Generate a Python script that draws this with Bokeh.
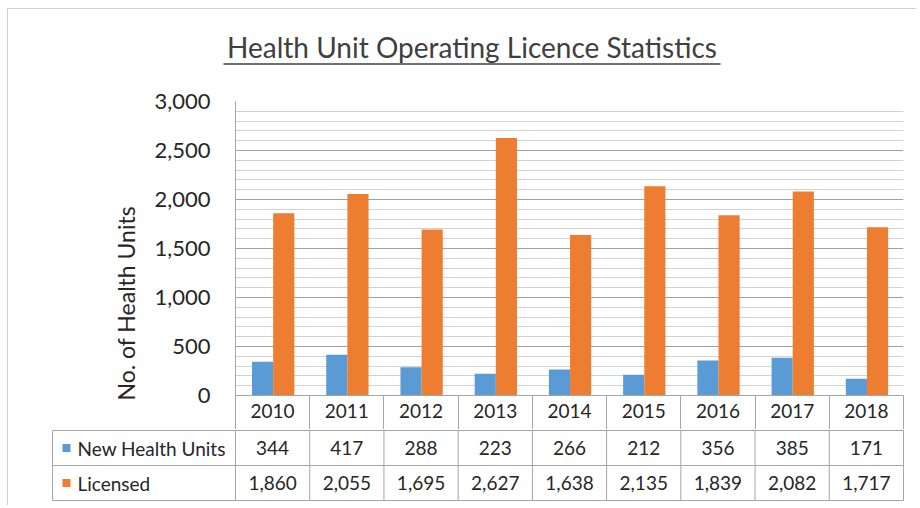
from bokeh.plotting import figure
from bokeh.models import (ColumnDataSource, Range1d, FixedTicker, Title,
                          LinearAxis, NumeralTickFormatter)
from bokeh.transform import dodge
from bokeh.layouts import column
from bokeh.embed import file_html
from bokeh.resources import INLINE
from bokeh.core.properties import value

# ---------------- data ----------------
title_text = "Health Unit Operating Licence Statistics"
y_label = "No. of Health Units"
years = ["2010", "2011", "2012", "2013", "2014", "2015", "2016", "2017", "2018"]
new_units = [344, 417, 288, 223, 266, 212, 356, 385, 171]
licensed = [1860, 2055, 1695, 2627, 1638, 2135, 1839, 2082, 1717]
series_names = ["New Health Units", "Licensed"]
series_colors = ["#5B9BD5", "#ED7D31"]
y_ticks = [0, 500, 1000, 1500, 2000, 2500, 3000]

# ---------------- style ----------------
FONT = "Lato"
TEXT = "#262626"
GRID_MAJOR = "#a0a0a0"
GRID_MINOR = "#d2d2d2"
TABLE_LINE = "#a6a6a6"
W = 916
LEFT = 235
RIGHT = 13
n = len(years)
cw = (W - LEFT - RIGHT) / n            # pixel width of one category
centers = [i + 0.5 for i in range(n)]  # category centres on the category scale


def plain(p):
    if "frame_align" in p.properties():
        p.frame_align = False
    p.border_fill_color = None
    p.outline_line_color = None


# ---------------- title ----------------
p0 = figure(width=W, height=79, x_range=Range1d(0, W), y_range=Range1d(79, 0),
            x_axis_location=None, y_axis_location=None, min_border=0,
            output_backend="svg", toolbar_location=None)
plain(p0)
p0.background_fill_color = None
p0.grid.visible = False
p0.text(x=[471.5], y=[46], text=[title_text], text_align="center",
        text_baseline="alphabetic", text_font=value(FONT), text_font_size="28px",
        text_color="#404040")
p0.segment(x0=[223], y0=[63.5], x1=[720], y1=[63.5], line_color="#404040", line_width=1.5)

# ---------------- chart ----------------
src = ColumnDataSource(dict(xc=centers, year=years, nhu=new_units, lic=licensed))
p1 = figure(width=W, height=350, x_range=Range1d(0, n),
            y_range=Range1d(0, y_ticks[-1]), x_axis_location=None,
            min_border_left=LEFT, min_border_right=RIGHT, min_border_top=22,
            min_border_bottom=34, output_backend="svg", toolbar_location=None)
plain(p1)
p1.xgrid.visible = False

minor = [v for v in range(0, y_ticks[-1] + 1, 100) if v % 500 != 0]
p1.ygrid.ticker = FixedTicker(ticks=y_ticks, minor_ticks=minor)
p1.ygrid.grid_line_color = GRID_MAJOR
p1.ygrid.minor_grid_line_color = GRID_MINOR

ya = p1.yaxis[0]
ya.ticker = FixedTicker(ticks=y_ticks, minor_ticks=[])
ya.formatter = NumeralTickFormatter(format="0,0")
ya.major_tick_out = 0
ya.major_tick_in = 0
ya.minor_tick_out = 0
ya.minor_tick_in = 0
ya.axis_line_color = TABLE_LINE
ya.major_label_standoff = 25
ya.major_label_text_font = FONT
ya.major_label_text_font_size = "22px"
ya.major_label_text_color = TEXT

# y axis title, starting near the bottom of the plot area as in the reference
ytitle = Title(text=y_label, align="left", offset=-5, standoff=24,
               text_font=FONT, text_font_size="23px", text_font_style="normal",
               text_color=TEXT)
p1.add_layout(ytitle, "left")

# category axis drawn as the first row of the data table
xa = LinearAxis(ticker=FixedTicker(ticks=centers, minor_ticks=list(range(n + 1))),
                major_label_overrides={c: y for c, y in zip(centers, years)})
xa.major_tick_out = 0
xa.major_tick_in = 0
xa.minor_tick_in = 0
xa.minor_tick_out = 35
xa.minor_tick_line_color = TABLE_LINE
xa.axis_line_color = TABLE_LINE
xa.major_label_standoff = -27
xa.major_label_text_font = FONT
xa.major_label_text_font_size = "19px"
xa.major_label_text_color = TEXT
p1.add_layout(xa, "below")

p1.vbar(x=dodge("xc", -0.135), top="nhu", width=0.285,
        source=src, fill_color=series_colors[0], line_color=None)
p1.vbar(x=dodge("xc", 0.15), top="lic", width=0.285,
        source=src, fill_color=series_colors[1], line_color=None)

# ---------------- data table rows ----------------
x_start = -LEFT / cw
x_end = n + RIGHT / cw
table_left = -(235 - 52) / cw
row_px = 35
p2 = figure(width=W, height=76, x_range=Range1d(x_start, x_end),
            y_range=Range1d(2 - 75 / row_px, 2 + 1 / row_px),
            x_axis_location=None, y_axis_location=None, min_border=0,
            output_backend="svg", toolbar_location=None)
plain(p2)
p2.background_fill_color = None
p2.grid.visible = False

vx = [table_left] + list(range(n + 1))
p2.segment(x0=vx, y0=[0] * len(vx), x1=vx, y1=[2] * len(vx), line_color=TABLE_LINE, line_width=1)
hy = [0, 1, 2]
p2.segment(x0=[table_left] * 3, y0=hy, x1=[n] * 3, y1=hy, line_color=TABLE_LINE, line_width=1)

p2.text(x=centers, y=[1.5] * n, text=[f"{v:,}" for v in new_units], text_align="center",
        text_baseline="middle", text_font=value(FONT), text_font_size="19px", text_color=TEXT)
p2.text(x=centers, y=[0.5] * n, text=[f"{v:,}" for v in licensed], text_align="center",
        text_baseline="middle", text_font=value(FONT), text_font_size="19px", text_color=TEXT)

p2.scatter(x=[table_left + 14 / cw] * 2, y=[1.5, 0.5], marker="square", size=8,
           fill_color=series_colors, line_color=None)
p2.text(x=[table_left + 25 / cw] * 2, y=[1.5, 0.5], text=series_names, text_align="left",
        text_baseline="middle", text_font=value(FONT), text_font_size="19px", text_color=TEXT)

frame_css = ("linear-gradient(#d0d0d0,#d0d0d0) 7px 8px / 1px 100% no-repeat, "
             "linear-gradient(#d0d0d0,#d0d0d0) 7px 8px / 100% 1px no-repeat, #ffffff")
layout = column(p0, p1, p2, spacing=0, styles={"background": frame_css})

open("out.html", "w").write(file_html(layout, INLINE))
